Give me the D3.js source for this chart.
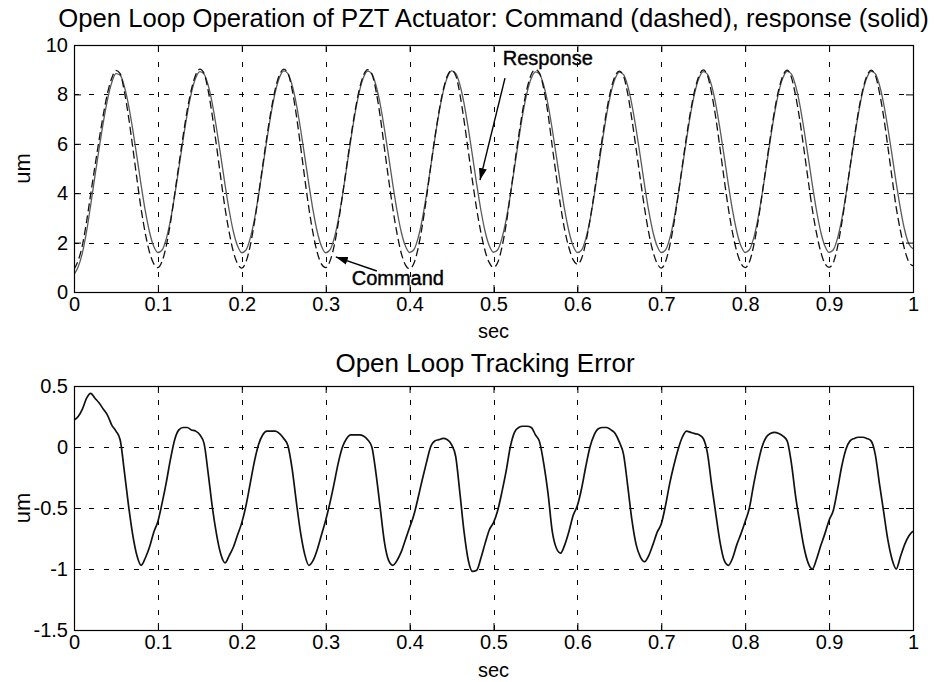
<!DOCTYPE html>
<html>
<head>
<meta charset="utf-8">
<script src="https://cdn.jsdelivr.net/npm/d3@7"></script>
<style>
  html, body { margin: 0; padding: 0; background: #fff; }
  svg { display: block; font-family: "Liberation Sans", Arial, Helvetica, sans-serif; }
</style>
</head>
<body>
<svg id="chart" width="934" height="682"></svg>
<script>
// Sample interval of the recorded traces (seconds)
const sampleInterval = 0.005;

// PZT displacement response (um), one row per 0.1 s cycle
const responseUm = [
  0.70, 1.02, 1.58, 2.45, 3.55, 4.70, 5.82, 6.88, 7.80, 8.48, 8.84, 8.78, 8.32, 7.57, 6.58, 5.47, 4.33, 3.28, 2.43, 1.85,
  1.60, 1.70, 2.16, 2.91, 3.90, 5.01, 6.15, 7.21, 8.07, 8.66, 8.92, 8.82, 8.36, 7.60, 6.60, 5.49, 4.35, 3.30, 2.44, 1.86,
  1.59, 1.70, 2.17, 2.93, 3.92, 5.04, 6.18, 7.24, 8.10, 8.69, 8.95, 8.84, 8.37, 7.61, 6.61, 5.49, 4.35, 3.29, 2.43, 1.85,
  1.59, 1.70, 2.16, 2.92, 3.91, 5.03, 6.17, 7.23, 8.09, 8.68, 8.94, 8.83, 8.36, 7.60, 6.60, 5.49, 4.35, 3.30, 2.44, 1.86,
  1.60, 1.71, 2.17, 2.93, 3.92, 5.04, 6.18, 7.24, 8.10, 8.69, 8.95, 8.85, 8.38, 7.62, 6.62, 5.50, 4.36, 3.31, 2.45, 1.87,
  1.61, 1.71, 2.17, 2.92, 3.91, 5.02, 6.16, 7.22, 8.07, 8.65, 8.91, 8.81, 8.35, 7.59, 6.59, 5.48, 4.34, 3.29, 2.44, 1.86,
  1.60, 1.70, 2.16, 2.91, 3.90, 5.01, 6.15, 7.21, 8.06, 8.64, 8.90, 8.80, 8.34, 7.58, 6.59, 5.48, 4.34, 3.29, 2.44, 1.86,
  1.60, 1.70, 2.16, 2.92, 3.91, 5.02, 6.16, 7.22, 8.08, 8.66, 8.92, 8.82, 8.35, 7.59, 6.59, 5.48, 4.34, 3.29, 2.44, 1.86,
  1.60, 1.71, 2.17, 2.93, 3.92, 5.03, 6.17, 7.23, 8.09, 8.67, 8.93, 8.83, 8.36, 7.60, 6.60, 5.49, 4.35, 3.30, 2.44, 1.86,
  1.60, 1.71, 2.17, 2.93, 3.92, 5.03, 6.17, 7.23, 8.09, 8.67, 8.93, 8.84, 8.38, 7.63, 6.65, 5.55, 4.42, 3.38, 2.52, 1.95,
  1.75
];

// Command signal sent to the actuator (um)
const commandUm = [
  0.92, 1.27, 1.89, 2.85, 3.99, 5.10, 6.18, 7.19, 8.06, 8.66, 8.97, 8.84, 8.12, 7.09, 5.86, 4.58, 3.36, 2.37, 1.61, 1.15,
  0.99, 1.24, 1.87, 2.81, 3.96, 5.15, 6.31, 7.37, 8.21, 8.79, 9.02, 8.85, 8.14, 7.10, 5.88, 4.61, 3.40, 2.41, 1.62, 1.14,
  0.97, 1.22, 1.87, 2.81, 3.94, 5.14, 6.31, 7.37, 8.23, 8.80, 9.02, 8.85, 8.19, 7.16, 5.91, 4.61, 3.38, 2.36, 1.59, 1.13,
  0.99, 1.24, 1.86, 2.79, 3.91, 5.10, 6.27, 7.33, 8.19, 8.77, 9.00, 8.83, 8.14, 7.10, 5.82, 4.56, 3.38, 2.37, 1.58, 1.10,
  0.94, 1.15, 1.75, 2.66, 3.79, 5.04, 6.23, 7.30, 8.17, 8.75, 8.97, 8.77, 8.00, 6.92, 5.69, 4.48, 3.35, 2.40, 1.66, 1.19,
  0.99, 1.19, 1.80, 2.72, 3.91, 5.14, 6.32, 7.39, 8.24, 8.81, 9.01, 8.85, 8.21, 7.21, 5.90, 4.65, 3.47, 2.49, 1.78, 1.30,
  1.12, 1.36, 2.00, 2.91, 4.00, 5.16, 6.31, 7.37, 8.20, 8.75, 8.94, 8.74, 8.02, 6.98, 5.79, 4.58, 3.40, 2.40, 1.64, 1.16,
  0.97, 1.22, 1.86, 2.77, 3.89, 5.10, 6.29, 7.34, 8.19, 8.76, 8.99, 8.77, 8.04, 7.04, 5.81, 4.55, 3.37, 2.38, 1.64, 1.15,
  0.99, 1.21, 1.86, 2.79, 3.92, 5.11, 6.28, 7.35, 8.20, 8.76, 8.98, 8.70, 7.96, 6.98, 5.78, 4.54, 3.35, 2.38, 1.63, 1.15,
  1.00, 1.19, 1.82, 2.77, 3.90, 5.08, 6.24, 7.31, 8.17, 8.74, 8.98, 8.78, 8.08, 7.10, 5.89, 4.63, 3.42, 2.48, 1.72, 1.22,
  1.06
];

// Open loop tracking error (um)
const trackingErrorUm = [
   0.22,  0.25,  0.31,  0.40,  0.44,  0.40,  0.36,  0.31,  0.26,  0.18,  0.13,  0.06, -0.20, -0.48, -0.72, -0.89, -0.97, -0.91, -0.82, -0.70,
  -0.61, -0.46, -0.29, -0.10,  0.06,  0.14,  0.16,  0.16,  0.14,  0.13,  0.10,  0.03, -0.22, -0.50, -0.72, -0.88, -0.95, -0.89, -0.82, -0.72,
  -0.62, -0.48, -0.30, -0.12,  0.02,  0.10,  0.13,  0.13,  0.13,  0.11,  0.07,  0.01, -0.18, -0.45, -0.70, -0.88, -0.97, -0.93, -0.84, -0.72,
  -0.60, -0.46, -0.30, -0.13,  0.00,  0.07,  0.10,  0.10,  0.10,  0.09,  0.06,  0.00, -0.22, -0.50, -0.78, -0.93, -0.97, -0.93, -0.86, -0.76,
  -0.66, -0.56, -0.42, -0.27, -0.13,  0.00,  0.05,  0.06,  0.07,  0.06,  0.02, -0.08, -0.38, -0.70, -0.93, -1.02, -1.01, -0.91, -0.79, -0.68,
  -0.62, -0.52, -0.37, -0.20,  0.00,  0.12,  0.16,  0.17,  0.17,  0.16,  0.10,  0.04, -0.14, -0.38, -0.69, -0.83, -0.87, -0.80, -0.69, -0.56,
  -0.48, -0.34, -0.16,  0.00,  0.10,  0.15,  0.16,  0.16,  0.14,  0.11,  0.04, -0.06, -0.32, -0.60, -0.80, -0.90, -0.94, -0.89, -0.80, -0.70,
  -0.63, -0.48, -0.30, -0.15, -0.02,  0.08,  0.13,  0.12,  0.11,  0.10,  0.07, -0.05, -0.31, -0.55, -0.78, -0.93, -0.97, -0.91, -0.80, -0.71,
  -0.61, -0.50, -0.31, -0.14,  0.00,  0.08,  0.11,  0.12,  0.11,  0.09,  0.05, -0.13, -0.40, -0.62, -0.82, -0.95, -1.00, -0.92, -0.81, -0.71,
  -0.60, -0.52, -0.35, -0.16, -0.02,  0.05,  0.07,  0.08,  0.08,  0.07,  0.05, -0.06, -0.30, -0.53, -0.76, -0.92, -1.00, -0.90, -0.80, -0.73,
  -0.69
];

// Axis ticks and labels
const timeTicks = [0, 0.1, 0.2, 0.3, 0.4, 0.5, 0.6, 0.7, 0.8, 0.9, 1];
const timeTickLabels = ["0", "0.1", "0.2", "0.3", "0.4", "0.5", "0.6", "0.7", "0.8", "0.9", "1"];
const displacementTicks = [0, 2, 4, 6, 8, 10];
const displacementTickLabels = ["0", "2", "4", "6", "8", "10"];
const errorTicks = [-1.5, -1, -0.5, 0, 0.5];
const errorTickLabels = ["-1.5", "-1", "-0.5", "0", "0.5"];

const sampleTimes = d3.range(responseUm.length).map(i => i * sampleInterval);

const svg = d3.select("#chart");
svg.append("rect").attr("width", 934).attr("height", 682).attr("fill", "#fff");

const defs = svg.append("defs");
defs.append("marker")
  .attr("id", "arrowHead")
  .attr("viewBox", "0 0 12 10")
  .attr("refX", 12).attr("refY", 5)
  .attr("markerWidth", 12).attr("markerHeight", 10)
  .attr("markerUnits", "userSpaceOnUse")
  .attr("orient", "auto")
  .append("path").attr("d", "M0,1 L12,5 L0,9 Z").attr("fill", "#000");

const plotLeft = 74, plotRight = 913;
const x = d3.scaleLinear().domain([0, 1]).range([plotLeft, plotRight]);

function drawPanel(cfg) {
  const y = d3.scaleLinear().domain(cfg.yDomain).range([cfg.bottom, cfg.top]);
  const g = svg.append("g");
  const clipId = cfg.id + "-clip";
  defs.append("clipPath").attr("id", clipId)
    .append("rect").attr("x", plotLeft).attr("y", cfg.top)
    .attr("width", plotRight - plotLeft).attr("height", cfg.bottom - cfg.top);

  // dotted grid
  const grid = g.append("g").attr("stroke", "#000").attr("stroke-width", 1)
    .attr("stroke-dasharray", "5,10").attr("fill", "none");
  grid.selectAll("line.vx").data(timeTicks.slice(1, -1)).join("line")
    .attr("x1", d => Math.round(x(d)) + 0.5).attr("x2", d => Math.round(x(d)) + 0.5)
    .attr("y1", cfg.bottom).attr("y2", cfg.top);
  grid.selectAll("line.hy").data(cfg.yTicks.slice(1, -1)).join("line")
    .attr("y1", d => Math.round(y(d)) + 0.5).attr("y2", d => Math.round(y(d)) + 0.5)
    .attr("x1", plotLeft).attr("x2", plotRight);

  // data traces
  const traces = g.append("g").attr("clip-path", `url(#${clipId})`);
  cfg.series.forEach(s => {
    const line = d3.line()
      .x((d, i) => x(sampleTimes[i]))
      .y(d => y(d))
      .curve(d3.curveMonotoneX);
    traces.append("path").datum(s.values)
      .attr("d", line)
      .attr("fill", "none")
      .attr("stroke", s.color)
      .attr("stroke-width", s.width)
      .attr("stroke-dasharray", s.dash || null)
      .attr("stroke-linejoin", "round");
  });

  // axes with inward ticks on all four sides
  const tickLen = 7;
  const bottomAxis = d3.axisBottom(x).tickValues(timeTicks)
    .tickFormat((d, i) => timeTickLabels[i]).tickSize(-tickLen).tickPadding(5);
  const topAxis = d3.axisTop(x).tickValues(timeTicks).tickFormat("").tickSize(-tickLen);
  const leftAxis = d3.axisLeft(y).tickValues(cfg.yTicks)
    .tickFormat((d, i) => cfg.yTickLabels[i]).tickSize(-tickLen).tickPadding(6);
  const rightAxis = d3.axisRight(y).tickValues(cfg.yTicks).tickFormat("").tickSize(-tickLen);

  const axes = [
    g.append("g").attr("transform", `translate(0,${cfg.bottom})`).call(bottomAxis),
    g.append("g").attr("transform", `translate(0,${cfg.top})`).call(topAxis),
    g.append("g").attr("transform", `translate(${plotLeft},0)`).call(leftAxis),
    g.append("g").attr("transform", `translate(${plotRight},0)`).call(rightAxis)
  ];
  axes.forEach(a => {
    a.select(".domain").remove();
    a.selectAll(".tick line").attr("stroke", "#000").attr("stroke-width", 1);
    a.selectAll("text").attr("fill", "#000").attr("font-size", 20)
      .attr("font-family", "'Liberation Sans', Arial, sans-serif");
  });

  // frame
  g.append("rect").attr("x", plotLeft + 0.5).attr("y", cfg.top + 0.5)
    .attr("width", plotRight - plotLeft).attr("height", cfg.bottom - cfg.top)
    .attr("fill", "none").attr("stroke", "#000").attr("stroke-width", 1.2);

  // titles and labels
  g.append("text").attr("x", cfg.titleX).attr("y", cfg.titleY)
    .attr("text-anchor", "middle").attr("font-size", cfg.titleSize).attr("fill", "#000")
    .text(cfg.title);
  g.append("text").attr("x", (plotLeft + plotRight) / 2).attr("y", cfg.xLabelY)
    .attr("text-anchor", "middle").attr("font-size", 20).attr("fill", "#000").text("sec");
  g.append("text")
    .attr("transform", `translate(30,${(cfg.top + cfg.bottom) / 2}) rotate(-90)`)
    .attr("text-anchor", "middle").attr("font-size", 22).attr("fill", "#000").text("um");

  return y;
}

const yTop = drawPanel({
  id: "response",
  top: 45, bottom: 292,
  yDomain: [0, 10], yTicks: displacementTicks, yTickLabels: displacementTickLabels,
  title: "Open Loop Operation of PZT Actuator: Command (dashed), response (solid)",
  titleX: 493.5, titleY: 27, titleSize: 25.7, xLabelY: 338,
  series: [
    { values: responseUm, color: "#5a5a5a", width: 1.3 },
    { values: commandUm, color: "#111", width: 1.3, dash: "8,4" }
  ]
});

drawPanel({
  id: "error",
  top: 386, bottom: 630,
  yDomain: [-1.5, 0.5], yTicks: errorTicks, yTickLabels: errorTickLabels,
  title: "Open Loop Tracking Error",
  titleX: 485, titleY: 372, titleSize: 26, xLabelY: 677,
  series: [
    { values: trackingErrorUm, color: "#111", width: 1.7 }
  ]
});

// annotations on the response panel
const notes = svg.append("g").attr("font-size", 20).attr("fill", "#000")
  .attr("stroke", "#000").attr("stroke-width", 0.4);
notes.append("text").attr("x", x(0.511)).attr("y", yTop(9.19)).text("Response");
notes.append("text").attr("x", x(0.331)).attr("y", yTop(0.28)).text("Command");

const arrows = svg.append("g").attr("stroke", "#000").attr("stroke-width", 1.4)
  .attr("fill", "none");
arrows.append("line")
  .attr("x1", x(0.5137)).attr("y1", yTop(8.66))
  .attr("x2", x(0.4839)).attr("y2", yTop(4.53))
  .attr("marker-end", "url(#arrowHead)");
arrows.append("line")
  .attr("x1", x(0.361)).attr("y1", yTop(0.85))
  .attr("x2", x(0.312)).attr("y2", yTop(1.42))
  .attr("marker-end", "url(#arrowHead)");
</script>
</body>
</html>
